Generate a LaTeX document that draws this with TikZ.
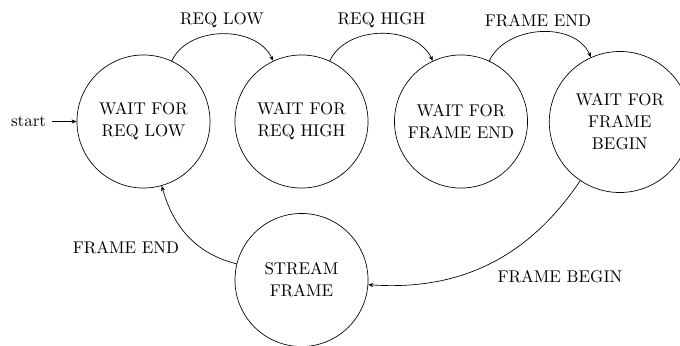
\documentclass[tikz,border=0pt]{standalone}
\usetikzlibrary{arrows.meta}
\begin{document}
\begin{tikzpicture}[x=0.59pt,y=-0.59pt,
  statebox/.style={draw,circle,minimum size=78.5pt,inner sep=1pt,align=center,font=\fontsize{10}{13}\selectfont},
  lbl/.style={inner sep=0pt,font=\fontsize{10}{12}\selectfont},
  trans/.style={-{Stealth[length=3pt,width=2.4pt]}}]
\useasboundingbox (0,0) rectangle (680,345);
\node[statebox] (s1) at (143.5,121.5) {WAIT FOR\\REQ LOW};
\node[statebox] (s2) at (301.5,121.5) {WAIT FOR\\REQ HIGH};
\node[statebox] (s3) at (461,121.5) {WAIT FOR\\FRAME END};
\node[statebox,minimum size=83.2pt] (s4) at (619.8,122) {WAIT FOR\\FRAME\\BEGIN};
\node[statebox] (s5) at (301.5,280) {STREAM\\FRAME};
\node[anchor=east,font=\fontsize{10}{12}\selectfont] (st) at (52,121.5) {start};
\draw[trans] (st) -- (s1);
\draw[trans] (s1) to[out=65,in=115] (s2);
\draw[trans] (s2) to[out=65,in=115] (s3);
\draw[trans] (s3) to[out=65,in=114] (s4);
\draw[trans] (s4) to[out=-124,in=-4] (s5);
\draw[trans] (s5) to[out=166,in=-74.5] (s1);
\node[lbl] (l1) at (222,20) {REQ LOW};
\node[lbl] (l2) at (381.5,20) {REQ HIGH};
\node[lbl] (l3) at (538,21) {FRAME END};
\node[lbl] (l4) at (560,277) {FRAME BEGIN};
\node[lbl] (l5) at (126,248) {FRAME END};
\end{tikzpicture}
\end{document}
